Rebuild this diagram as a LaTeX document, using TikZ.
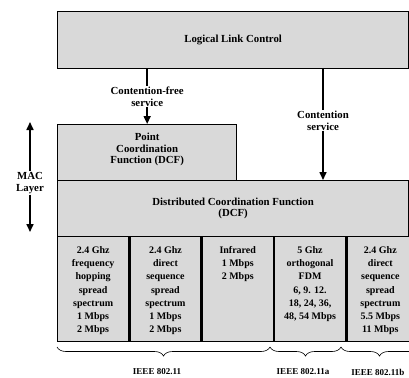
\documentclass[tikz,border=0pt]{standalone}
\usepackage{fontspec}
\setmainfont{Liberation Serif}
\usetikzlibrary{arrows.meta, positioning, calc, decorations.pathreplacing}
\definecolor{boxGray}{HTML}{D9D9D9}
\tikzset{
    % Boxes
    layerBox/.style={rectangle, draw=black, line width=1.3pt, fill=boxGray, inner sep=0pt,
        align=center, font=\bfseries\fontsize{10.8}{11.5}\selectfont, anchor=north west},
    phyCell/.style={layerBox, minimum width=71pt, minimum height=105pt},
    phyText/.style={align=center, inner sep=0pt, anchor=north, font=\bfseries\fontsize{10}{13.3}\selectfont},
    % Arrows
    arrowService/.style={-{Triangle[width=7pt,length=8pt]}, line width=1.6pt},
    serviceLabel/.style={font=\bfseries\fontsize{10.8}{11.5}\selectfont, align=center, fill=white, inner sep=1pt},
    % Braces
    stdBrace/.style={decorate, decoration={brace, mirror, amplitude=9pt, aspect=0.5}, semithick},
    stdLabel/.style={font=\bfseries\fontsize{9}{11}\selectfont}
}

\begin{document}
\begin{tikzpicture}[x=1pt, y=1pt]
    \useasboundingbox (0,0) rectangle (409,-377);
    % Layers
    \node[layerBox, minimum width=351pt, minimum height=57pt] (llc) at (57,-11) {Logical Link Control};
    \node[layerBox, minimum width=179pt, minimum height=56pt, text depth=8pt] (pcf) at (57,-124) {Point\\Coordination\\Function (DCF)};
    \node[layerBox, minimum width=351pt, minimum height=56pt] (dcf) at (57,-180) {Distributed Coordination Function\\(DCF)};
    % Physical layer
    \node[phyCell] (phyA) at (57,-236) {};
    \node[phyCell, right=0pt of phyA] (phyB) {};
    \node[phyCell, right=0pt of phyB] (phyC) {};
    \node[phyCell, right=0pt of phyC] (phyD) {};
    \node[phyCell, right=0pt of phyD, minimum width=67pt] (phyE) {};
    \node[phyText, below=10pt of phyA.north] (txtA) {2.4 Ghz\\frequency\\hopping\\spread\\spectrum\\1 Mbps\\2 Mbps};
    \node[phyText, below=10pt of phyB.north] (txtB) {2.4 Ghz\\direct\\sequence\\spread\\spectrum\\1 Mbps\\2 Mbps};
    \node[phyText, below=10pt of phyC.north] (txtC) {Infrared\\1 Mbps\\2 Mbps};
    \node[phyText, below=10pt of phyD.north] (txtD) {5 Ghz\\orthogonal\\FDM\\6, 9. 12.\\18, 24, 36,\\48, 54 Mbps};
    \node[phyText, below=10pt of phyE.north] (txtE) {2.4 Ghz\\direct\\sequence\\spread\\spectrum\\5.5 Mbps\\11 Mbps};
    % Services
    \draw[arrowService] (pcf.north |- llc.south) -- (pcf.north)
        node[midway, serviceLabel] (cfree) {Contention-free\\service};
    \coordinate (contTop) at (323,-68);
    \draw[arrowService] (contTop) -- (contTop |- dcf.north)
        node[pos=0.47, serviceLabel] (cserv) {Contention\\service};
    % MAC layer
    \node[serviceLabel, fill=none] (mac) at (30,-183) {MAC\\Layer};
    \coordinate (macTop) at (30,-122);
    \coordinate (macBot) at (30,-232);
    \draw[arrowService] (mac.north) -- (macTop);
    \draw[arrowService] (mac.south) -- (macBot);
    % Standards
    \coordinate (brA) at (57,-347);
    \coordinate (brB) at (270,-347);
    \coordinate (brC) at (341,-347);
    \coordinate (brD) at (418,-347);
    \draw[stdBrace] (brA) -- (brB);
    \draw[stdBrace] (brB) -- (brC);
    \draw[stdBrace] (brC) -- (brD);
    \node[stdLabel] (ieeeA) at (157,-372) {IEEE 802.11};
    \node[stdLabel] (ieeeB) at (303,-372) {IEEE 802.11a};
    \node[stdLabel, anchor=east] (ieeeC) at (408,-372) {IEEE 802.11b};
\end{tikzpicture}
\end{document}
